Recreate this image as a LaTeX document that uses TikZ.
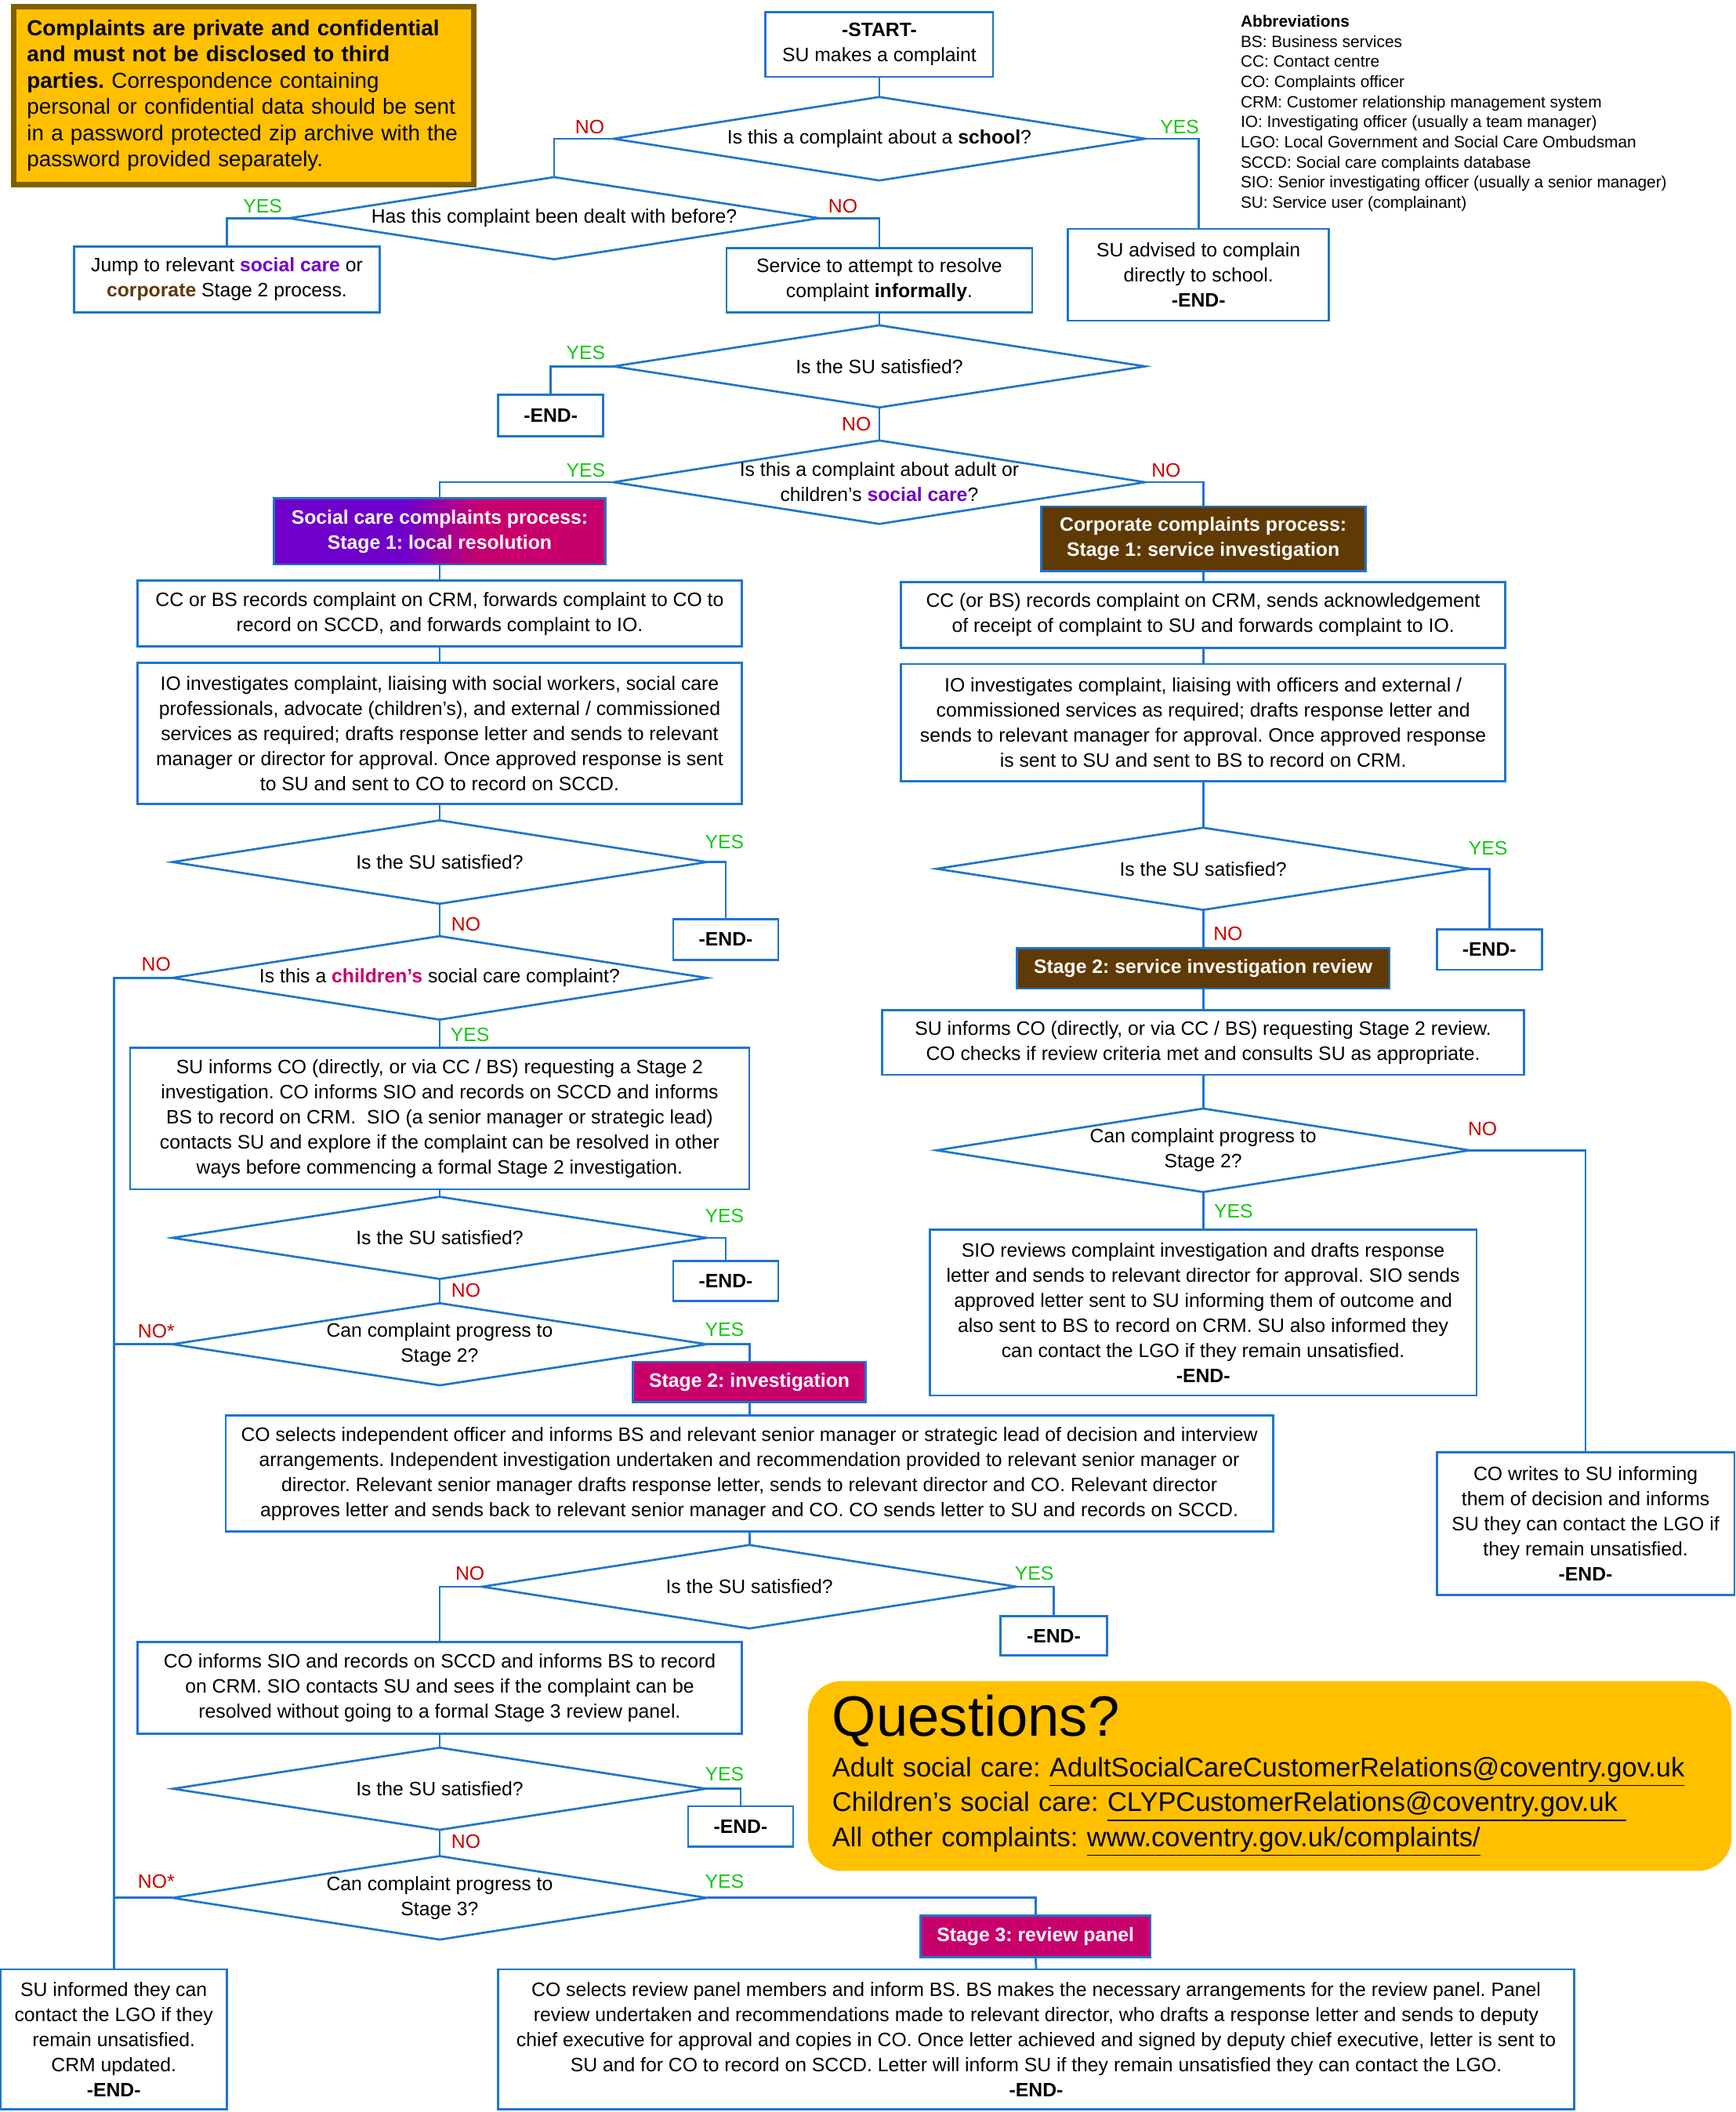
\documentclass[tikz,border=0pt]{standalone}
\usepackage{fontspec}
\setmainfont{Liberation Sans}
\usetikzlibrary{shapes.geometric}

\definecolor{lineblue}{RGB}{31,117,204}
\definecolor{yesgreen}{RGB}{20,200,20}
\definecolor{nored}{RGB}{200,0,0}
\definecolor{scpurple}{RGB}{112,0,204}
\definecolor{scmagenta}{RGB}{200,0,108}
\definecolor{corpbrown}{RGB}{96,58,4}
\definecolor{warnfill}{RGB}{255,192,0}
\definecolor{warnedge}{RGB}{127,96,0}

\pgfdeclarehorizontalshading{scshade}{100bp}{color(0bp)=(scpurple); color(25bp)=(scpurple); color(45bp)=(scpurple); color(56bp)=(scmagenta); color(75bp)=(scmagenta); color(100bp)=(scmagenta)}

\newcommand\boxfont{\fontsize{8.2}{10.6}\selectfont}
\newcommand\abbrfont{\fontsize{6.9}{8.5}\selectfont}
\newcommand\warnfont{\fontsize{9.2}{11.1}\selectfont}
\newcommand\askfont{\fontsize{11.4}{14.7}\selectfont}

\begin{document}
\frenchspacing
\begin{tikzpicture}[
        x=0.02cm, y=-0.02cm, % one unit = one pixel of the layout
        every node/.style={font=\boxfont},
        box/.style={draw=lineblue, line width=0.9pt, align=center, inner sep=0pt, outer sep=0pt},
        endbox/.style={box, font=\boxfont\bfseries, minimum width=1.56cm, minimum height=0.6cm},
        stagebox/.style={box, text=white, font=\boxfont\bfseries},
        decision/.style={diamond, draw=lineblue, line width=0.9pt, align=center, aspect=6.4, inner xsep=-100pt, inner ysep=-20pt, outer sep=0pt, minimum width=7.94cm, minimum height=1.24cm},
        yeslbl/.style={text=yesgreen, inner sep=0pt},
        nolbl/.style={text=nored, inner sep=0pt},
        flow/.style={draw=lineblue, line width=0.9pt}
    ]
    \useasboundingbox (0,0) rectangle (1289,1568);

    % Notes
    \node[draw=warnedge, line width=2.3pt, fill=warnfill, font=\warnfont, align=left, text width=6.44cm, inner xsep=0.2cm, minimum height=2.64cm] (warn) at (181,71) {\textbf{Complaints are private and confidential}\\\textbf{and must not be disclosed to third}\\\textbf{parties.} Correspondence containing\\personal or confidential data should be sent\\in a password protected zip archive with the\\password provided separately.};
    \node[anchor=north west, align=left, inner sep=0pt, font=\abbrfont] (abbr) at (921,11) {\textbf{Abbreviations}\\BS: Business services\\CC: Contact centre\\CO: Complaints officer\\CRM: Customer relationship management system\\IO: Investigating officer (usually a team manager)\\LGO: Local Government and Social Care Ombudsman\\SCCD: Social care complaints database\\SIO: Senior investigating officer (usually a senior manager)\\SU: Service user (complainant)};
    \node[fill=warnfill, rounded corners=0.5cm, align=left, text width=13cm, inner xsep=0.36cm, minimum height=2.82cm, font=\askfont] (ask) at (943,1318.5) {{\fontsize{24}{28}\selectfont Questions?}\\[2.3pt]Adult social care: \underline{AdultSocialCareCustomerRelations@coventry.gov.uk}\\Children’s social care: \underline{CLYPCustomerRelations@coventry.gov.uk\ }\\All other complaints: \underline{www.coventry.gov.uk/complaints/}};

    % Nodes - start
    \node[box, minimum width=3.38cm, minimum height=0.96cm] (start) at (653,33) {\textbf{-START-}\\SU makes a complaint};
    \node[decision, minimum width=7.9cm] (dschool) at (653,103) {Is this a complaint about a \textbf{school}?};
    \node[decision, minimum width=7.88cm, minimum height=1.22cm] (dbefore) at (411.5,162) {Has this complaint been dealt with before?};
    \node[box, minimum width=4.54cm, minimum height=0.98cm] (jump) at (168.5,207.5) {Jump to relevant \textcolor{scpurple}{\textbf{social care}} or\\\textcolor{corpbrown}{\textbf{corporate}} Stage 2 process.};
    \node[box, minimum width=4.54cm, minimum height=0.96cm] (informal) at (653,208) {Service to attempt to resolve\\complaint \textbf{informally}.};
    \node[box, minimum width=3.88cm, minimum height=1.36cm] (school) at (890,204) {SU advised to complain\\directly to school.\\\textbf{-END-}};
    \node[decision, minimum width=7.9cm, minimum height=1.22cm] (dsat) at (653,272) {Is the SU satisfied?};
    \node[endbox, minimum height=0.62cm] (end1) at (409,308.5) {-END-};
    \node[decision, minimum width=7.9cm] (dsocial) at (653,358) {Is this a complaint about adult or\\children’s \textcolor{scpurple}{\textbf{social care}}?};

    % Nodes - social care
    \node[stagebox, shading=scshade, minimum width=4.92cm, minimum height=0.98cm] (scstage1) at (326.5,394.5) {Social care complaints process:\\Stage 1: local resolution};
    \node[box, minimum width=8.98cm, minimum height=0.98cm] (screc) at (326.5,455.5) {CC or BS records complaint on CRM, forwards complaint to CO to\\record on SCCD, and forwards complaint to IO.};
    \node[box, minimum width=8.98cm, minimum height=2.1cm] (scio) at (326.5,544.5) {IO investigates complaint, liaising with social workers, social care\\professionals, advocate (children’s), and external / commissioned\\services as required; drafts response letter and sends to relevant\\manager or director for approval. Once approved response is sent\\to SU and sent to CO to record on SCCD.};
    \node[decision] (scd1) at (326.5,640) {Is the SU satisfied?};
    \node[endbox] (scend1) at (539,697.5) {-END-};
    \node[decision] (scd2) at (326.5,726) {Is this a \textcolor{scmagenta}{\textbf{children’s}} social care complaint?};
    \node[box, minimum width=9.2cm, minimum height=2.1cm] (scs2req) at (326.5,830.5) {SU informs CO (directly, or via CC / BS) requesting a Stage 2\\investigation. CO informs SIO and records on SCCD and informs\\BS to record on CRM.\ \ SIO (a senior manager or strategic lead)\\contacts SU and explore if the complaint can be resolved in other\\ways before commencing a formal Stage 2 investigation.};
    \node[decision, minimum height=1.22cm] (scd3) at (326.5,919) {Is the SU satisfied?};
    \node[endbox] (scend2) at (539,951) {-END-};
    \node[decision, minimum height=1.22cm] (scd4) at (326.5,998) {Can complaint progress to\\Stage 2?};
    \node[stagebox, fill=scmagenta, minimum width=3.46cm, minimum height=0.6cm] (scstage2) at (556.5,1026) {Stage 2: investigation};
    \node[box, minimum width=15.56cm, minimum height=1.72cm] (scinv) at (556.5,1094) {CO selects independent officer and informs BS and relevant senior manager or strategic lead of decision and interview\\arrangements. Independent investigation undertaken and recommendation provided to relevant senior manager or\\director. Relevant senior manager drafts response letter, sends to relevant director and CO. Relevant director\\approves letter and sends back to relevant senior manager and CO. CO sends letter to SU and records on SCCD.};
    \node[decision] (scd5) at (556.5,1178) {Is the SU satisfied?};
    \node[endbox, minimum width=1.58cm, minimum height=0.58cm] (scend3) at (782.5,1214.5) {-END-};
    \node[box, minimum width=8.98cm, minimum height=1.36cm] (scs3req) at (326.5,1253) {CO informs SIO and records on SCCD and informs BS to record\\on CRM. SIO contacts SU and sees if the complaint can be\\resolved without going to a formal Stage 3 review panel.};
    \node[decision, minimum width=7.92cm, minimum height=1.22cm] (scd6) at (326.5,1328) {Is the SU satisfied?};
    \node[endbox] (scend4) at (550,1356) {-END-};
    \node[decision] (scd7) at (326.5,1409) {Can complaint progress to\\Stage 3?};
    \node[stagebox, fill=scmagenta, minimum width=3.42cm, minimum height=0.62cm] (scstage3) at (769,1437.5) {Stage 3: review panel};
    \node[box, minimum width=15.98cm, minimum height=2.08cm] (panel) at (769.5,1514) {CO selects review panel members and inform BS. BS makes the necessary arrangements for the review panel. Panel\\review undertaken and recommendations made to relevant director, who drafts a response letter and sends to deputy\\chief executive for approval and copies in CO. Once letter achieved and signed by deputy chief executive, letter is sent to\\SU and for CO to record on SCCD. Letter will inform SU if they remain unsatisfied they can contact the LGO.\\\textbf{-END-}};
    \node[box, minimum width=3.36cm, minimum height=2.08cm] (lgo) at (84.5,1514) {SU informed they can\\contact the LGO if they\\remain unsatisfied.\\CRM updated.\\\textbf{-END-}};

    % Nodes - corporate
    \node[stagebox, fill=corpbrown, minimum width=4.82cm, minimum height=0.96cm] (corpstage1) at (893.5,400) {Corporate complaints process:\\Stage 1: service investigation};
    \node[box, minimum width=8.98cm, minimum height=0.98cm] (corprec) at (893.5,456.5) {CC (or BS) records complaint on CRM, sends acknowledgement\\of receipt of complaint to SU and forwards complaint to IO.};
    \node[box, minimum width=8.98cm, minimum height=1.74cm] (corpio) at (893.5,536.5) {IO investigates complaint, liaising with officers and external /\\commissioned services as required; drafts response letter and\\sends to relevant manager for approval. Once approved response\\is sent to SU and sent to BS to record on CRM.};
    \node[decision, minimum width=7.92cm, minimum height=1.22cm] (corpd1) at (893.5,645) {Is the SU satisfied?};
    \node[endbox] (corpend1) at (1106,705) {-END-};
    \node[stagebox, fill=corpbrown, minimum width=5.54cm, minimum height=0.6cm] (corpstage2) at (893.5,719) {Stage 2: service investigation review};
    \node[box, minimum width=9.54cm, minimum height=0.96cm] (corps2req) at (893.5,774) {SU informs CO (directly, or via CC / BS) requesting Stage 2 review.\\CO checks if review criteria met and consults SU as appropriate.};
    \node[decision, minimum width=7.92cm] (corpd2) at (893.5,854) {Can complaint progress to\\Stage 2?};
    \node[box, minimum width=8.12cm, minimum height=2.46cm] (corpsio) at (893.5,974.5) {SIO reviews complaint investigation and drafts response\\letter and sends to relevant director for approval. SIO sends\\approved letter sent to SU informing them of outcome and\\also sent to BS to record on CRM. SU also informed they\\can contact the LGO if they remain unsatisfied.\\\textbf{-END-}};
    \node[box, minimum width=4.42cm, minimum height=2.12cm] (corplgo) at (1177.5,1131) {CO writes to SU informing\\them of decision and informs\\SU they can contact the LGO if\\they remain unsatisfied.\\\textbf{-END-}};

    % Labels
    \node[nolbl] (l1) at (438,94) {NO};
    \node[yeslbl] (l2) at (876,94) {YES};
    \node[yeslbl] (l3) at (195,153) {YES};
    \node[nolbl] (l4) at (626,153) {NO};
    \node[yeslbl] (l5) at (435,262) {YES};
    \node[nolbl] (l6) at (636,315) {NO};
    \node[yeslbl] (l7) at (435,349) {YES};
    \node[nolbl] (l8) at (866,349) {NO};
    \node[yeslbl] (l9) at (538,625) {YES};
    \node[nolbl] (l10) at (346,686) {NO};
    \node[nolbl] (l11) at (116,716) {NO};
    \node[yeslbl] (l12) at (349,768) {YES};
    \node[yeslbl] (l13) at (538,903) {YES};
    \node[nolbl] (l14) at (346,958) {NO};
    \node[nolbl] (l15) at (116,988) {NO*};
    \node[yeslbl] (l16) at (538,987) {YES};
    \node[nolbl] (l17) at (349,1168) {NO};
    \node[yeslbl] (l18) at (768,1168) {YES};
    \node[yeslbl] (l19) at (538,1317) {YES};
    \node[nolbl] (l20) at (346,1367) {NO};
    \node[nolbl] (l21) at (116,1397) {NO*};
    \node[yeslbl] (l22) at (538,1397) {YES};
    \node[yeslbl] (l23) at (1105,630) {YES};
    \node[nolbl] (l24) at (912,693) {NO};
    \node[nolbl] (l25) at (1101,838) {NO};
    \node[yeslbl] (l26) at (916,899) {YES};

    % Edges - start
    \draw[flow] (start.south) -- (dschool.north);
    \draw[flow] (dschool.west) -| (dbefore.north);
    \draw[flow] (dschool.east) -| (school.north);
    \draw[flow] (dbefore.west) -| (jump.north);
    \draw[flow] (dbefore.east) -| (informal.north);
    \draw[flow] (informal.south) -- (dsat.north);
    \draw[flow] (dsat.west) -| (end1.north);
    \draw[flow] (dsat.south) -- (dsocial.north);
    \draw[flow] (dsocial.west) -| (scstage1.north);
    \draw[flow] (dsocial.east) -| (corpstage1.north);

    % Edges - social care
    \draw[flow] (scstage1.south) -- (screc.north);
    \draw[flow] (screc.south) -- (scio.north);
    \draw[flow] (scio.south) -- (scd1.north);
    \draw[flow] (scd1.east) -| (scend1.north);
    \draw[flow] (scd1.south) -- (scd2.north);
    \draw[flow] (scd2.west) -| (lgo.north);
    \draw[flow] (scd2.south) -- (scs2req.north);
    \draw[flow] (scs2req.south) -- (scd3.north);
    \draw[flow] (scd3.east) -| (scend2.north);
    \draw[flow] (scd3.south) -- (scd4.north);
    \draw[flow] (scd4.west) -- (scd4.west -| lgo.north);
    \draw[flow] (scd4.east) -| (scstage2.north);
    \draw[flow] (scstage2.south) -- (scinv.north);
    \draw[flow] (scinv.south) -- (scd5.north);
    \draw[flow] (scd5.west) -| (scs3req.north);
    \draw[flow] (scd5.east) -| (scend3.north);
    \draw[flow] (scs3req.south) -- (scd6.north);
    \draw[flow] (scd6.east) -| (scend4.north);
    \draw[flow] (scd6.south) -- (scd7.north);
    \draw[flow] (scd7.west) -- (scd7.west -| lgo.north);
    \draw[flow] (scd7.east) -| (scstage3.north);
    \draw[flow] (scstage3.south) -- (panel.north);

    % Edges - corporate
    \draw[flow] (corpstage1.south) -- (corprec.north);
    \draw[flow] (corprec.south) -- (corpio.north);
    \draw[flow] (corpio.south) -- (corpd1.north);
    \draw[flow] (corpd1.east) -| (corpend1.north);
    \draw[flow] (corpd1.south) -- (corpstage2.north);
    \draw[flow] (corpstage2.south) -- (corps2req.north);
    \draw[flow] (corps2req.south) -- (corpd2.north);
    \draw[flow] (corpd2.south) -- (corpsio.north);
    \draw[flow] (corpd2.east) -| (corplgo.north);

\end{tikzpicture}
\end{document}
